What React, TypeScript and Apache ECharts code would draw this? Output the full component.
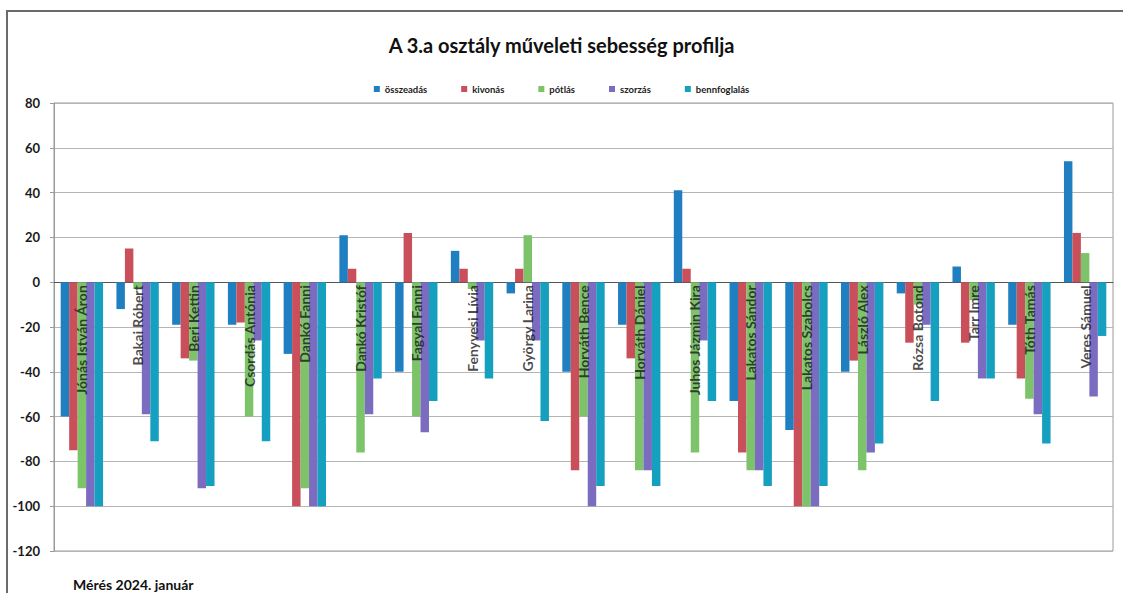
import React, { useEffect, useRef } from "react";
import * as echarts from "echarts";

const categories = [
  "Jónás István Áron",
  "Bakai Róbert",
  "Beri Kettin",
  "Csordás Antónia",
  "Dankó Fanni",
  "Dankó Kristóf",
  "Fagyal Fanni",
  "Fenyvesi Lívia",
  "György Larina",
  "Horváth Bence",
  "Horváth Dániel",
  "Juhos Jázmin Kira",
  "Lakatos Sándor",
  "Lakatos Szabolcs",
  "László Alex",
  "Rózsa Botond",
  "Tarr Imre",
  "Tóth Tamás",
  "Veres Sámuel",
];

const seriesNames = ["összeadás", "kivonás", "pótlás", "szorzás", "bennfoglalás"];

const osszeadas = [-60, -12, -19, -19, -32, 21, -40, 14, -5, -40, -19, 41, -53, -66, -40, -5, 7, -19, 54];
const kivonas = [-75, 15, -34, -18, -100, 6, 22, 6, 6, -84, -34, 6, -76, -100, -35, -27, -27, -43, 22];
const potlas = [-92, -3, -35, -60, -92, -76, -60, -3, 21, -60, -84, -76, -84, -100, -84, -10, -8, -52, 13];
const szorzas = [-100, -59, -92, -26, -100, -59, -67, -26, -26, -100, -84, -26, -84, -100, -76, -19, -43, -59, -51];
const bennfoglalas = [-100, -71, -91, -71, -100, -43, -53, -43, -62, -91, -91, -53, -91, -91, -72, -53, -43, -72, -24];

const yTicks = { min: -120, max: 80, interval: 20 };

const colors = ["#1f7fc0", "#c9505b", "#7cc36a", "#7b6cc0", "#16a0c0"];

export default function App() {
  const ref = useRef<HTMLDivElement>(null);
  useEffect(() => {
    if (!ref.current) return;
    const chart = echarts.init(ref.current, undefined, { renderer: "svg" });
    const data = [osszeadas, kivonas, potlas, szorzas, bennfoglalas];
    const barSeries = seriesNames.map((name, i) => ({
      name,
      type: "bar",
      data: data[i],
      barGap: "0%",
      barCategoryGap: "24%",
      z: 2,
    }));
    const labelSeries = {
      name: "labels",
      type: "scatter",
      data: categories.map((c) => [c, 0]),
      symbolSize: 0,
      z: 5,
      silent: true,
      label: {
        show: true,
        formatter: (p: any) => p.data[0],
        position: "bottom",
        distance: 3,
        rotate: 90,
        align: "right",
        verticalAlign: "middle",
        fontFamily: "Lato",
        fontWeight: "bold",
        fontSize: 14,
        color: "#1a1a1a",
      },
    };
    chart.setOption({
      animation: false,
      backgroundColor: "#ffffff",
      color: colors,
      title: {
        text: "A 3.a osztály műveleti sebesség profilja",
        left: "center",
        top: 30,
        textStyle: { fontFamily: "Lato", fontWeight: "bold", fontSize: 20, color: "#111" },
      },
      legend: {
        data: seriesNames,
        left: "center",
        top: 79,
        itemWidth: 6,
        itemHeight: 6,
        itemGap: 34,
        icon: "rect",
        textStyle: { fontFamily: "Lato", fontWeight: "bold", fontSize: 9.5, color: "#222" },
      },
      grid: {
        left: 54,
        right: 10,
        top: 103,
        bottom: 42,
        show: true,
        borderColor: "#9a9a9a",
        borderWidth: 1,
        containLabel: false,
        outerBoundsMode: "none",
      },
      xAxis: {
        type: "category",
        data: categories,
        axisLine: { onZero: true, lineStyle: { color: "#555", width: 1 } },
        axisTick: { show: false },
        axisLabel: { show: false },
      },
      yAxis: {
        type: "value",
        min: yTicks.min,
        max: yTicks.max,
        interval: yTicks.interval,
        axisLine: { show: true, lineStyle: { color: "#9a9a9a" } },
        axisTick: { show: true, length: 4, lineStyle: { color: "#9a9a9a" } },
        splitLine: { lineStyle: { color: "#b5b5b5", width: 1 } },
        axisLabel: {
          margin: 14,
          fontFamily: "Lato",
          fontWeight: "bold",
          fontSize: 13,
          color: "#1a1a1a",
        },
      },
      series: [...barSeries, labelSeries],
      graphic: [
        {
          type: "rect",
          shape: { x: 7, y: 11, width: 1140, height: 620 },
          style: { fill: "none", stroke: "#6a6a6a", lineWidth: 2 },
          silent: true,
        },
        {
          type: "text",
          left: 73,
          top: 577,
          style: {
            text: "Mérés 2024. január",
            fontFamily: "Lato",
            fontWeight: "bold",
            fontSize: 14,
            fill: "#111",
          },
        },
      ],
    });
    return () => chart.dispose();
  }, []);
  return <div ref={ref} style={{ width: 1123, height: 593, position: "absolute", left: 0, top: 0 }} />;
}
